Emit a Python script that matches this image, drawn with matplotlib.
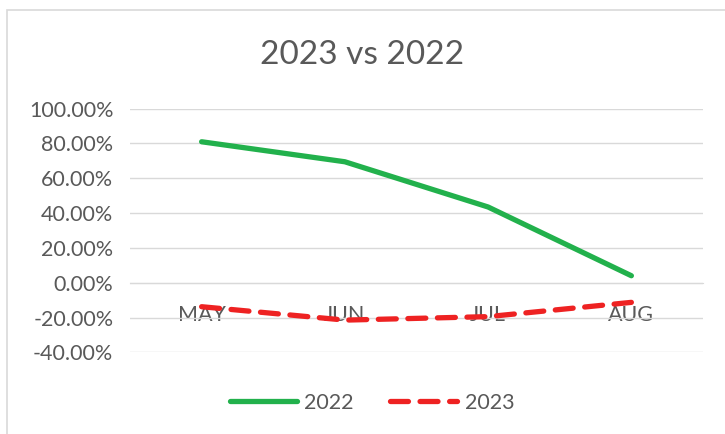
import matplotlib.pyplot as plt
from matplotlib.patches import Rectangle
from matplotlib.ticker import FuncFormatter

months = ["MAY", "JUN", "JUL", "AUG"]
y2022 = [81.0, 69.5, 43.5, 4.0]
y2023 = [-13.8, -21.5, -19.5, -11.3]
yticks = [-40, -20, 0, 20, 40, 60, 80, 100]

plt.rcParams['font.family'] = ['Lato', 'DejaVu Sans']
grey = '#595959'

fig = plt.figure(figsize=(7.25, 4.34), dpi=100)
fig.patches.append(Rectangle((7 / 725, -0.01), 1.0, 1 - 10 / 434 + 0.01,
                             transform=fig.transFigure, fill=False,
                             edgecolor='#d9d9d9', linewidth=1.2))
ax = fig.add_axes([130 / 725, 1 - 352.3 / 434, 573 / 725, (352.3 - 108.7) / 434])

x = list(range(len(months)))
ax.plot(x, y2022, color='#22b14c', linewidth=3.8, solid_capstyle='round', label='2022')
ax.plot(x, y2023, color='#ee2222', linewidth=3.8, dashes=(3.4, 2.2),
        dash_capstyle='round', label='2023')

ax.set_xlim(-0.5, len(months) - 0.5)
ax.set_ylim(-40, 100)
ax.set_yticks(yticks)
ax.yaxis.set_major_formatter(FuncFormatter(lambda v, p: f"{v:.2f}%"))
ax.grid(axis='y', color='#d9d9d9', linewidth=1)
ax.set_axisbelow(True)
for s in ['top', 'right', 'left']:
    ax.spines[s].set_visible(False)
ax.spines['bottom'].set_position(('data', 0))
ax.spines['bottom'].set_color('#d9d9d9')
ax.set_xticks(x)
ax.set_xticklabels(months)
ax.tick_params(axis='x', length=0, pad=16, labelsize=15.5, colors=grey)
ax.tick_params(axis='y', length=0, pad=12, labelsize=15.5, colors=grey)

fig.suptitle("2023 vs 2022", x=0.5, y=1 - 55 / 434, va='center',
             fontsize=24, color=grey)
fig.legend(loc='center', bbox_to_anchor=(372 / 725, 1 - 403 / 434), ncol=2,
           frameon=False, fontsize=15.5, labelcolor=grey, handlelength=3.1,
           columnspacing=1.7, handletextpad=0.35)

fig.savefig("out.png", dpi=100)
